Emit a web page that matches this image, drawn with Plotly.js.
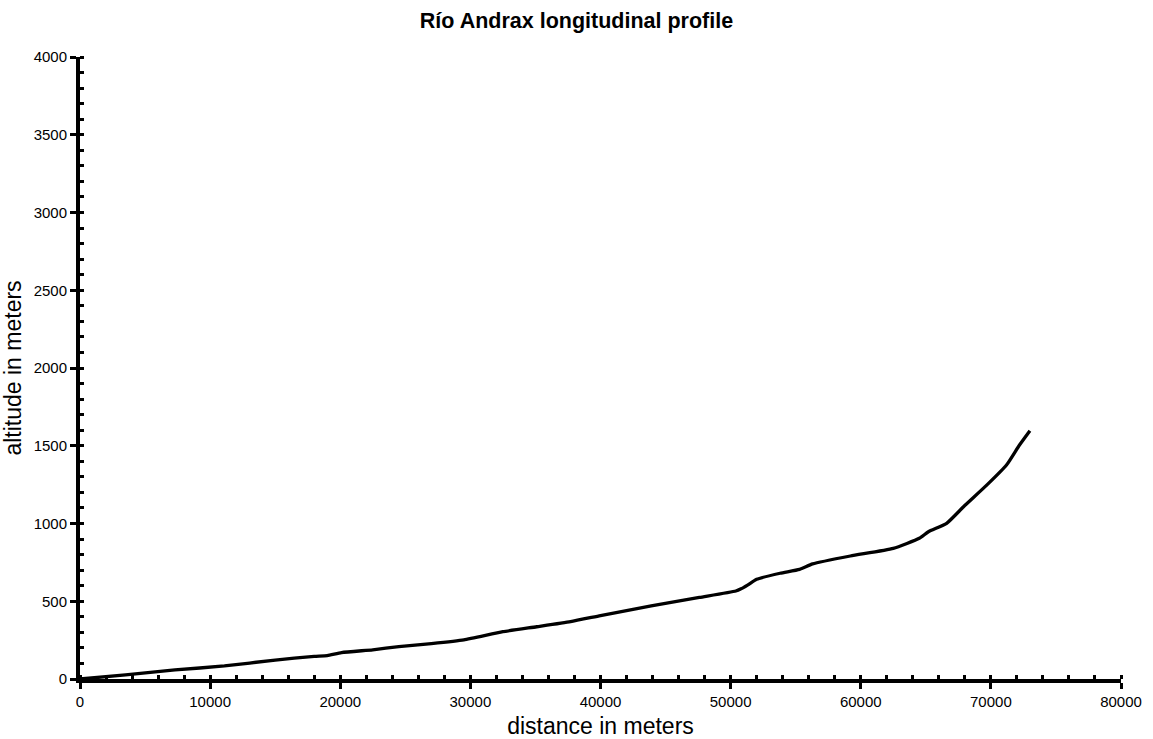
<!DOCTYPE html>
<html>
<head>
<meta charset="utf-8">
<script src="https://cdn.plot.ly/plotly-3.0.1.min.js"></script>
<style>html,body{margin:0;padding:0;background:#fff}#chart{width:1153px;height:739px}</style>
</head>
<body>
<div id="chart"></div>
<script>
const distance = [0, 3500, 7300, 11100, 15000, 18000, 19000, 20100, 22500, 24500, 27000, 29500, 32500, 35100, 37700, 40000, 42600, 45200, 47600, 50400, 50800, 51300, 52000, 53800, 55300, 56300, 59200, 62500, 64500, 65200, 66600, 67900, 69700, 71200, 72200, 73000];
const altitude = [0, 26, 58, 84, 122, 145, 150, 170, 188, 208, 228, 252, 304, 336, 369, 408, 450, 490, 525, 566, 580, 604, 641, 680, 705, 740, 791, 840, 905, 947, 1001, 1108, 1248, 1376, 1505, 1597];
const titleText = "Río Andrax longitudinal profile";
const xTitle = "distance in meters";
const yTitle = "altitude in meters";

const font = "Liberation Sans, Arial, Helvetica, sans-serif";
const trace = {
  x: distance, y: altitude, type: "scatter", mode: "lines",
  line: {color: "#000", width: 3.3, shape: "spline", smoothing: 0.5},
  hoverinfo: "skip"
};
const axisCommon = {
  showline: true, linecolor: "#000", linewidth: 4,
  showgrid: false, zeroline: false,
  ticks: "outside", ticklen: 6, tickwidth: 3, tickcolor: "#000",
  tickfont: {family: font, size: 15, color: "#000"},
  tickformat: "d",
  fixedrange: true
};
const layout = {
  width: 1153, height: 739,
  margin: {l: 80, r: 32, t: 57, b: 60},
  paper_bgcolor: "#fff", plot_bgcolor: "#fff",
  showlegend: false,
  title: {text: "<b>" + titleText + "</b>", font: {family: font, size: 21.5, color: "#000"},
          x: 0.5, xref: "container", y: 1 - 20/739, yref: "container", yanchor: "middle"},
  xaxis: Object.assign({}, axisCommon, {
    range: [0, 80000], tick0: 0, dtick: 10000,
    minor: {dtick: 2000, ticks: "inside", ticklen: 4, tickwidth: 3, tickcolor: "#000", showgrid: false},
    title: {text: xTitle, font: {family: font, size: 23, color: "#000"}, standoff: 10}
  }),
  yaxis: Object.assign({}, axisCommon, {
    range: [0, 4000], tick0: 0, dtick: 500,
    minor: {dtick: 100, ticks: "inside", ticklen: 4, tickwidth: 3, tickcolor: "#000", showgrid: false},
    title: {text: yTitle, font: {family: font, size: 23, color: "#000"}, standoff: 8}
  })
};
Plotly.newPlot("chart", [trace], layout, {displayModeBar: false, staticPlot: true});
</script>
</body>
</html>
